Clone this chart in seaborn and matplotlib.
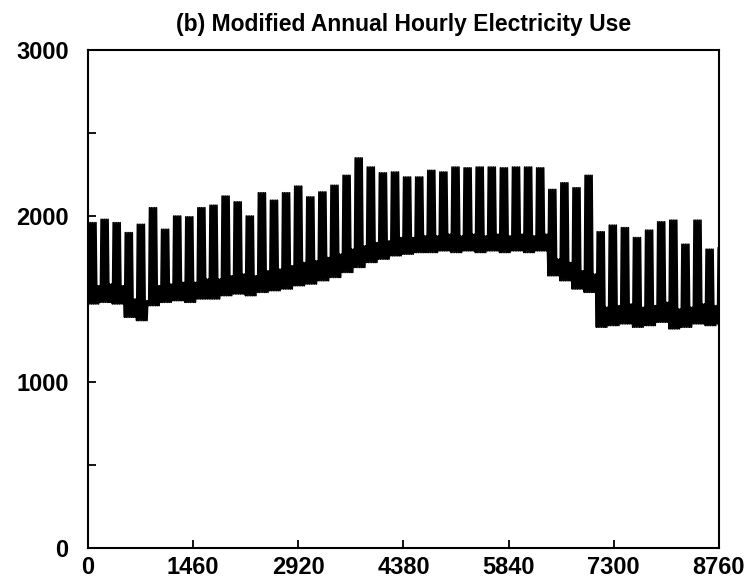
import numpy as np
import pandas as pd
import matplotlib
matplotlib.use("Agg")
import matplotlib.pyplot as plt
import seaborn as sns

# -----------------------------------------------------
# DATA (one value per week)
# -----------------------------------------------------

# weekday daytime peak
week_peak = [1960, 1980, 1960, 1900, 1950, 2050, 1920, 2000, 1995, 2050,
             2065, 2120, 2085, 2000, 2140, 2095, 2140, 2180, 2115, 2145,
             2185, 2245, 2350, 2295, 2260, 2265, 2235, 2235, 2275, 2265,
             2295, 2290, 2295, 2295, 2290, 2295, 2295, 2290, 2160, 2200,
             2170, 2245, 1905, 1945, 1930, 1870, 1915, 1965, 1975, 1830,
             1975, 1800, 1810]

# night-time low
week_low = [1470, 1480, 1470, 1390, 1370, 1460, 1480, 1490, 1480, 1500,
            1500, 1520, 1530, 1520, 1540, 1550, 1560, 1580, 1590, 1610,
            1630, 1660, 1690, 1720, 1740, 1760, 1770, 1780, 1780, 1790,
            1780, 1790, 1780, 1790, 1780, 1790, 1780, 1790, 1640, 1610,
            1560, 1540, 1330, 1340, 1350, 1330, 1340, 1360, 1320, 1330,
            1350, 1340, 1350]

# weekend daytime level
week_end = [1580, 1590, 1580, 1500, 1490, 1580, 1590, 1600, 1600, 1620,
            1620, 1640, 1650, 1640, 1670, 1680, 1700, 1720, 1730, 1750,
            1770, 1800, 1820, 1840, 1850, 1870, 1870, 1880, 1880, 1890,
            1880, 1890, 1880, 1890, 1880, 1890, 1880, 1890, 1740, 1720,
            1670, 1650, 1450, 1460, 1470, 1450, 1460, 1480, 1440, 1450,
            1470, 1460, 1470]

x_ticks = [0, 1460, 2920, 4380, 5840, 7300, 8760]
y_ticks = [0, 1000, 2000, 3000]
TITLE = "(b) Modified Annual Hourly Electricity Use"

# -----------------------------------------------------
# BUILD HALF-DAY SERIES (night low / day high per day)
# -----------------------------------------------------

hours, loads = [], []
for d in range(365):
    w = d // 7
    weekday = (d % 7) < 5
    hours.append(d * 24 + 3)
    loads.append(week_low[w])
    hours.append(d * 24 + 14)
    loads.append(week_peak[w] if weekday else week_end[w])

df = pd.DataFrame({"hour": hours, "load": loads})

# -----------------------------------------------------
# PLOT
# -----------------------------------------------------

sns.set_style("ticks")
plt.rcParams["font.family"] = ["Liberation Sans", "DejaVu Sans"]

fig = plt.figure(figsize=(7.53, 5.84), dpi=100)
ax = fig.add_axes([0.1169, 0.0616, 0.8379, 0.8528])

sns.lineplot(data=df, x="hour", y="load", ax=ax, color="black",
             linewidth=1.2, estimator=None)

ax.set_xlim(0, 8760)
ax.set_ylim(0, 3000)
ax.set_xticks(x_ticks)
ax.set_xticklabels([str(t) for t in x_ticks])
ax.set_yticks(y_ticks)
ax.set_yticklabels([str(t) for t in y_ticks])
ax.set_yticks([500, 1500, 2500], minor=True)
ax.set_xlabel("")
ax.set_ylabel("")

ax.tick_params(axis="both", which="both", direction="in", length=6,
               width=1.3, labelsize=17, color="black", labelcolor="black")
ax.tick_params(axis="y", pad=14)
ax.tick_params(axis="x", pad=6)
for lab in ax.get_xticklabels() + ax.get_yticklabels():
    lab.set_fontweight("bold")

for s in ax.spines.values():
    s.set_linewidth(1.5)
    s.set_color("black")
    s.set_visible(True)

ax.set_title(TITLE, fontsize=16.5, fontweight="bold", pad=14, color="black")

fig.savefig("out.png", dpi=100)
